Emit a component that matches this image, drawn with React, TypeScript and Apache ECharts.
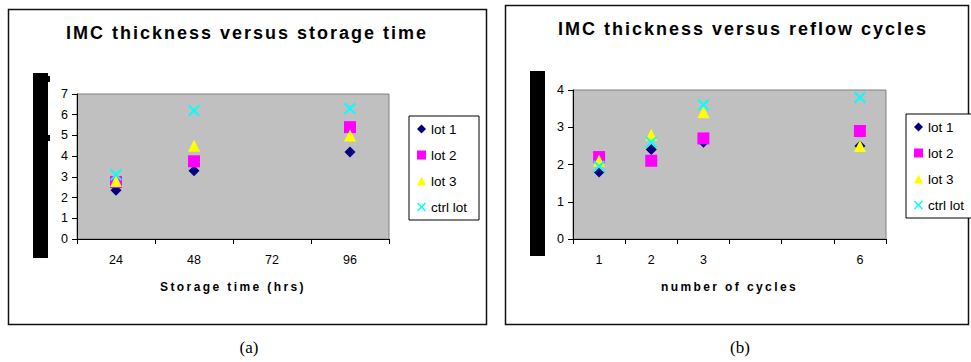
import React, { useEffect, useRef } from 'react';
import * as echarts from 'echarts';

// ---- data: chart (a) ----
const storageTimes = ['24', '48', '72', '96'];
const storageLot1 = [2.35, 3.3, null, 4.2];
const storageLot2 = [2.75, 3.75, null, 5.4];
const storageLot3 = [2.8, 4.5, null, 5.0];
const storageCtrl = [3.1, 6.2, null, 6.3];

// ---- data: chart (b) ----
const cycleLabels = ['1', '2', '3', '', '', '6'];
const cycleLot1 = [1.8, 2.4, 2.6, null, null, 2.5];
const cycleLot2 = [2.2, 2.1, 2.7, null, null, 2.9];
const cycleLot3 = [2.1, 2.8, 3.4, null, null, 2.5];
const cycleCtrl = [1.95, 2.6, 3.6, null, null, 3.8];

const seriesNames = ['lot 1', 'lot 2', 'lot 3', 'ctrl lot'];

const titleA = 'IMC thickness versus storage time';
const titleB = 'IMC thickness versus reflow cycles';
const xNameA = 'Storage time (hrs)';
const xNameB = 'number of cycles';

const FONT = 'Arial, "Liberation Sans", sans-serif';
const X_PATH =
  'path://M0,1.4L1.4,0L6,4.6L10.6,0L12,1.4L7.4,6L12,10.6L10.6,12L6,7.4L1.4,12L0,10.6L4.6,6Z';

const symbols = [
  { symbol: 'diamond', size: 11, color: '#000080' },
  { symbol: 'rect', size: 12, color: '#FF00FF' },
  { symbol: 'triangle', size: 12, color: '#FFFF00' },
  { symbol: X_PATH, size: 12, color: '#00FFFF' },
];

export default function App() {
  const ref = useRef<HTMLDivElement>(null);

  useEffect(() => {
    document.body.style.margin = '0';
    const el = ref.current!;
    const chart = echarts.init(el, undefined, { renderer: 'svg' });

    const makeSeries = (idx: number, data: (number | null)[][]) =>
      data.map((d, i) => ({
        name: seriesNames[i],
        type: 'scatter',
        xAxisIndex: idx,
        yAxisIndex: idx,
        symbol: symbols[i].symbol,
        symbolSize: symbols[i].size,
        itemStyle: { color: symbols[i].color, opacity: 1 },
        data: d,
        z: 3 + i,
      }));

    const xAxisCommon = {
      type: 'category',
      boundaryGap: true,
      axisLine: { lineStyle: { color: '#000', width: 1 } },
      axisTick: { show: true, interval: 0, length: 5, lineStyle: { color: '#000' } },
      axisLabel: { interval: 0, color: '#000', fontSize: 12.5, fontFamily: FONT, margin: 14 },
      splitLine: { show: false },
      nameLocation: 'middle',
      nameGap: 42,
      nameTextStyle: { color: '#000', fontSize: 12, fontWeight: 'bold', fontFamily: FONT },
    };
    const yAxisCommon = {
      type: 'value',
      min: 0,
      interval: 1,
      axisLine: { show: true, lineStyle: { color: '#000', width: 1 } },
      axisTick: { show: true, length: 5, lineStyle: { color: '#000' } },
      axisLabel: { color: '#000', fontSize: 12.5, fontFamily: FONT, margin: 9 },
      splitLine: { show: false },
    };
    const legendCommon = {
      orient: 'vertical',
      itemWidth: 9,
      itemHeight: 9,
      itemGap: 12,
      padding: [6, 12, 6, 8],
      borderColor: '#000',
      borderWidth: 1,
      backgroundColor: '#fff',
      textStyle: { color: '#000', fontSize: 13.5, fontFamily: FONT },
      data: seriesNames,
    };

    chart.setOption({
      animation: false,
      backgroundColor: '#fff',
      grid: [
        {
          left: 77, top: 94, width: 312, height: 145, show: true,
          backgroundColor: '#C0C0C0', borderColor: '#808080', borderWidth: 1,
        },
        {
          left: 573, top: 90, width: 313, height: 149, show: true,
          backgroundColor: '#C0C0C0', borderColor: '#808080', borderWidth: 1,
        },
      ],
      xAxis: [
        { ...xAxisCommon, gridIndex: 0, data: storageTimes, name: xNameA },
        { ...xAxisCommon, gridIndex: 1, data: cycleLabels, name: xNameB },
      ],
      yAxis: [
        { ...yAxisCommon, gridIndex: 0, max: 7 },
        { ...yAxisCommon, gridIndex: 1, max: 4 },
      ],
      legend: [
        { ...legendCommon, left: 409, top: 116 },
        { ...legendCommon, left: 906, top: 114 },
      ],
      series: [
        ...makeSeries(0, [storageLot1, storageLot2, storageLot3, storageCtrl]),
        ...makeSeries(1, [cycleLot1, cycleLot2, cycleLot3, cycleCtrl]),
      ],
      graphic: [
        { type: 'rect', shape: { x: 8.5, y: 9.5, width: 478, height: 315 }, style: { fill: 'none', stroke: '#111', lineWidth: 1.5 }, z: 0 },
        { type: 'rect', shape: { x: 505.5, y: 5.5, width: 463, height: 319 }, style: { fill: 'none', stroke: '#111', lineWidth: 1.5 }, z: 0 },
        { type: 'rect', shape: { x: 33, y: 73, width: 15, height: 185 }, style: { fill: '#000' } },
        { type: 'rect', shape: { x: 48, y: 76, width: 2, height: 6 }, style: { fill: '#000' } },
        { type: 'rect', shape: { x: 48, y: 135, width: 2, height: 6 }, style: { fill: '#000' } },
        { type: 'rect', shape: { x: 530, y: 71, width: 15, height: 185 }, style: { fill: '#000' } },
        {
          type: 'text', x: 247, y: 33,
          style: { text: titleA, font: `bold 18px ${FONT}`, fill: '#000', align: 'center', verticalAlign: 'middle' },
        },
        {
          type: 'text', x: 743, y: 29,
          style: { text: titleB, font: `bold 18px ${FONT}`, fill: '#000', align: 'center', verticalAlign: 'middle' },
        },
        {
          type: 'text', x: 249, y: 347,
          style: { text: '(a)', font: '17px "Times New Roman", "Liberation Serif", serif', fill: '#000', align: 'center', verticalAlign: 'middle' },
        },
        {
          type: 'text', x: 740, y: 347,
          style: { text: '(b)', font: '17px "Times New Roman", "Liberation Serif", serif', fill: '#000', align: 'center', verticalAlign: 'middle' },
        },
      ],
    });

    const spacing: Record<string, string> = {
      [titleA]: '2px',
      [titleB]: '2px',
      [xNameA]: '2.4px',
      [xNameB]: '2.4px',
    };
    const applySpacing = () => {
      el.querySelectorAll('text').forEach((t) => {
        const s = spacing[(t.textContent || '').trim()];
        if (s) t.setAttribute('letter-spacing', s);
      });
    };
    applySpacing();
    chart.on('finished', applySpacing);
    const timer = setTimeout(applySpacing, 50);

    return () => {
      clearTimeout(timer);
      chart.dispose();
    };
  }, []);

  return (
    <div
      ref={ref}
      style={{ position: 'absolute', left: 0, top: 0, width: 971, height: 362, background: '#fff' }}
    />
  );
}
